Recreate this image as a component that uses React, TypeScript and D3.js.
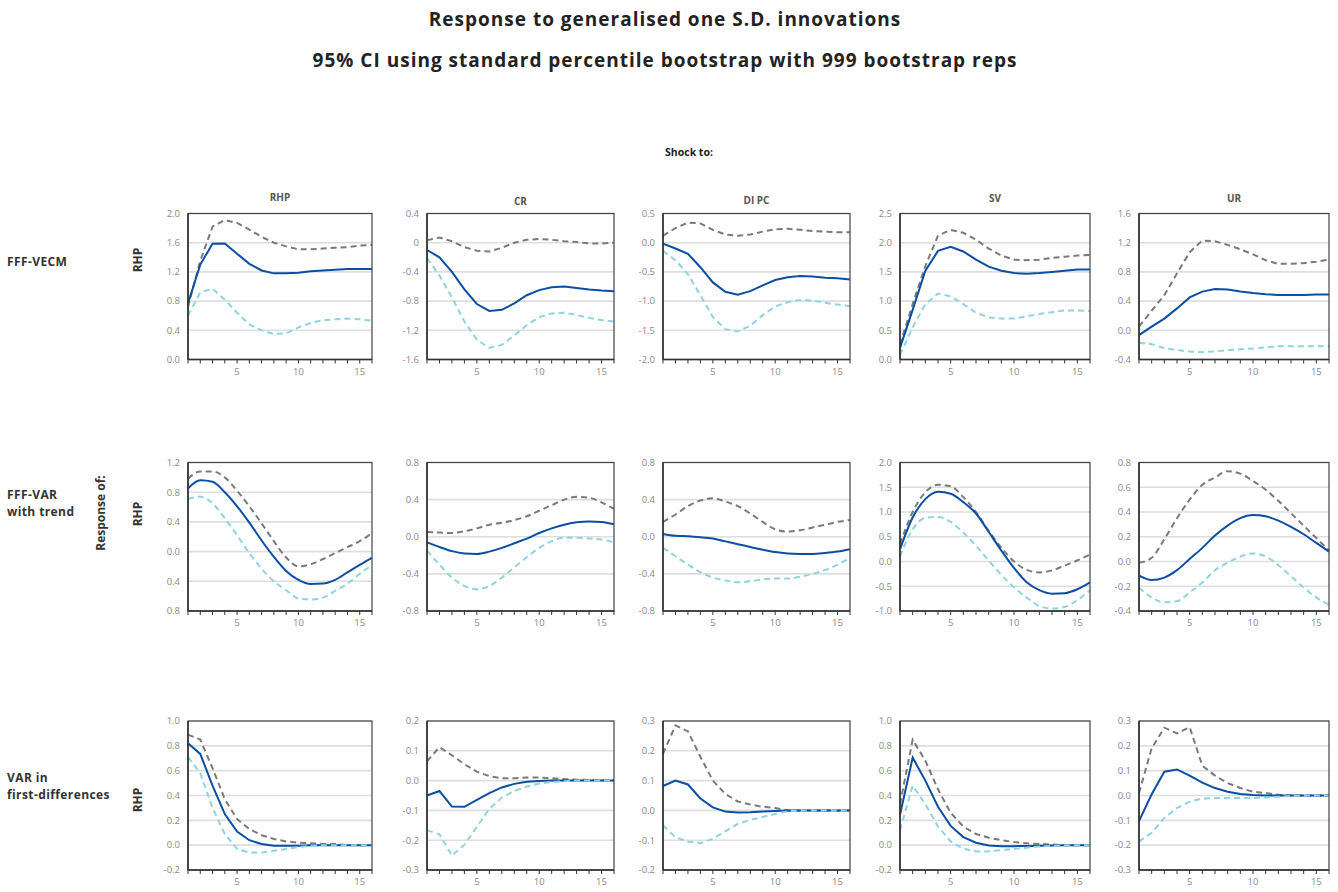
import React from "react";
import * as d3 from "d3";

// ---------- DATA ----------
const horizons = d3.range(1, 17);
const shocks = ["RHP", "CR", "DI PC", "SV", "UR"];
const models = [["FFF-VECM"], ["FFF-VAR", "with trend"], ["VAR in", "first-differences"]];

// Row 1: FFF-VECM
const vecmRhpUp = [0.72, 1.35, 1.82, 1.91, 1.87, 1.78, 1.68, 1.6, 1.55, 1.51, 1.51, 1.52, 1.53, 1.54, 1.56, 1.57];
const vecmRhpMid = [0.77, 1.3, 1.585, 1.59, 1.45, 1.31, 1.22, 1.18, 1.18, 1.19, 1.21, 1.22, 1.23, 1.24, 1.24, 1.24];
const vecmRhpLo = [0.6, 0.92, 0.97, 0.82, 0.64, 0.48, 0.4, 0.35, 0.36, 0.44, 0.5, 0.54, 0.55, 0.56, 0.55, 0.53];
const vecmCrUp = [0.035, 0.07, 0.02, -0.06, -0.11, -0.12, -0.07, 0.0, 0.04, 0.05, 0.04, 0.02, 0.01, -0.01, -0.01, 0.0];
const vecmCrMid = [-0.1, -0.2, -0.4, -0.64, -0.84, -0.935, -0.92, -0.83, -0.72, -0.65, -0.61, -0.6, -0.62, -0.64, -0.655, -0.665];
const vecmCrLo = [-0.21, -0.45, -0.75, -1.08, -1.33, -1.44, -1.4, -1.27, -1.13, -1.02, -0.97, -0.96, -0.99, -1.03, -1.06, -1.08];
const vecmDipcUp = [0.12, 0.25, 0.345, 0.33, 0.22, 0.14, 0.12, 0.14, 0.19, 0.23, 0.24, 0.22, 0.2, 0.19, 0.18, 0.18];
const vecmDipcMid = [-0.015, -0.1, -0.19, -0.42, -0.68, -0.84, -0.89, -0.83, -0.73, -0.64, -0.59, -0.57, -0.58, -0.6, -0.61, -0.63];
const vecmDipcLo = [-0.14, -0.3, -0.54, -0.9, -1.27, -1.48, -1.52, -1.42, -1.24, -1.09, -1.02, -0.98, -0.99, -1.03, -1.06, -1.09];
const vecmSvUp = [0.25, 0.95, 1.6, 2.12, 2.22, 2.17, 2.05, 1.9, 1.78, 1.71, 1.7, 1.71, 1.74, 1.76, 1.78, 1.79];
const vecmSvMid = [0.2, 0.85, 1.52, 1.86, 1.93, 1.85, 1.71, 1.59, 1.52, 1.48, 1.47, 1.48, 1.5, 1.52, 1.54, 1.54];
const vecmSvLo = [0.08, 0.55, 0.95, 1.13, 1.08, 0.95, 0.8, 0.72, 0.7, 0.7, 0.74, 0.78, 0.81, 0.84, 0.84, 0.83];
const vecmUrUp = [0.05, 0.27, 0.48, 0.78, 1.07, 1.23, 1.22, 1.17, 1.11, 1.04, 0.96, 0.91, 0.91, 0.92, 0.94, 0.97];
const vecmUrMid = [-0.065, 0.05, 0.16, 0.3, 0.45, 0.53, 0.565, 0.56, 0.53, 0.51, 0.495, 0.485, 0.485, 0.485, 0.49, 0.49];
const vecmUrLo = [-0.17, -0.19, -0.245, -0.27, -0.29, -0.3, -0.29, -0.27, -0.26, -0.25, -0.235, -0.22, -0.22, -0.22, -0.22, -0.22];

// Row 2: FFF-VAR with trend
const varRhpUp = [0.98, 1.08, 1.08, 1.0, 0.82, 0.61, 0.38, 0.14, -0.08, -0.2, -0.17, -0.1, -0.02, 0.06, 0.14, 0.25];
const varRhpMid = [0.85, 0.96, 0.94, 0.8, 0.61, 0.39, 0.15, -0.07, -0.26, -0.38, -0.435, -0.43, -0.38, -0.28, -0.18, -0.085];
const varRhpLo = [0.71, 0.74, 0.65, 0.45, 0.22, -0.02, -0.23, -0.4, -0.52, -0.63, -0.645, -0.62, -0.53, -0.43, -0.3, -0.18];
const varCrUp = [0.05, 0.045, 0.04, 0.06, 0.09, 0.13, 0.15, 0.18, 0.22, 0.28, 0.34, 0.4, 0.43, 0.42, 0.37, 0.3];
const varCrMid = [-0.06, -0.11, -0.155, -0.18, -0.185, -0.16, -0.12, -0.07, -0.02, 0.04, 0.09, 0.13, 0.155, 0.165, 0.16, 0.135];
const varCrLo = [-0.15, -0.3, -0.44, -0.53, -0.565, -0.53, -0.44, -0.33, -0.22, -0.12, -0.05, -0.01, -0.01, -0.02, -0.03, -0.06];
const varDipcUp = [0.16, 0.24, 0.33, 0.39, 0.415, 0.38, 0.33, 0.25, 0.16, 0.08, 0.055, 0.07, 0.1, 0.13, 0.16, 0.18];
const varDipcMid = [0.03, 0.01, 0.005, -0.005, -0.02, -0.05, -0.08, -0.11, -0.14, -0.165, -0.18, -0.185, -0.185, -0.175, -0.16, -0.135];
const varDipcLo = [-0.12, -0.21, -0.3, -0.38, -0.44, -0.47, -0.49, -0.48, -0.46, -0.45, -0.45, -0.43, -0.4, -0.36, -0.3, -0.23];
const varSvUp = [0.35, 1.0, 1.4, 1.55, 1.52, 1.3, 1.0, 0.62, 0.28, 0.0, -0.17, -0.22, -0.18, -0.08, 0.02, 0.14];
const varSvMid = [0.25, 0.89, 1.26, 1.41, 1.37, 1.2, 0.97, 0.6, 0.22, -0.13, -0.42, -0.58, -0.65, -0.64, -0.56, -0.42];
const varSvLo = [0.1, 0.65, 0.88, 0.9, 0.8, 0.58, 0.32, 0.02, -0.27, -0.52, -0.73, -0.9, -0.95, -0.92, -0.78, -0.58];
const varUrUp = [-0.01, 0.03, 0.18, 0.35, 0.5, 0.62, 0.68, 0.73, 0.71, 0.65, 0.58, 0.49, 0.39, 0.29, 0.19, 0.09];
const varUrMid = [-0.115, -0.15, -0.13, -0.07, 0.02, 0.11, 0.21, 0.29, 0.35, 0.375, 0.365, 0.33, 0.28, 0.22, 0.15, 0.08];
const varUrLo = [-0.21, -0.29, -0.33, -0.32, -0.25, -0.17, -0.07, -0.01, 0.04, 0.065, 0.04, -0.03, -0.12, -0.21, -0.29, -0.35];

// Row 3: VAR in first-differences
const fdRhpUp = [0.89, 0.85, 0.62, 0.37, 0.21, 0.13, 0.08, 0.05, 0.03, 0.02, 0.015, 0.01, 0.01, 0.0, 0.0, 0.0];
const fdRhpMid = [0.82, 0.735, 0.48, 0.25, 0.11, 0.04, 0.01, -0.005, -0.005, -0.005, 0.0, 0.0, 0.0, 0.0, 0.0, 0.0];
const fdRhpLo = [0.71, 0.58, 0.3, 0.09, -0.03, -0.06, -0.06, -0.045, -0.03, -0.015, -0.005, 0.0, 0.0, 0.0, 0.0, 0.0];
const fdCrUp = [0.065, 0.112, 0.085, 0.055, 0.03, 0.015, 0.008, 0.008, 0.01, 0.01, 0.008, 0.005, 0.003, 0.002, 0.001, 0.0];
const fdCrMid = [-0.05, -0.035, -0.087, -0.088, -0.065, -0.042, -0.023, -0.011, -0.004, -0.001, 0.0, 0.0, 0.0, 0.0, 0.0, 0.0];
const fdCrLo = [-0.167, -0.18, -0.252, -0.215, -0.155, -0.095, -0.057, -0.035, -0.02, -0.01, -0.005, -0.002, 0.0, 0.0, 0.0, 0.0];
const fdDipcUp = [0.19, 0.285, 0.265, 0.18, 0.1, 0.055, 0.03, 0.02, 0.012, 0.008, 0.0, 0.0, 0.0, 0.0, 0.0, 0.0];
const fdDipcMid = [0.082, 0.1, 0.087, 0.04, 0.01, -0.004, -0.007, -0.006, -0.004, -0.002, 0.0, 0.0, 0.0, 0.0, 0.0, 0.0];
const fdDipcLo = [-0.05, -0.09, -0.105, -0.11, -0.095, -0.07, -0.045, -0.032, -0.022, -0.012, -0.003, 0.0, 0.0, 0.0, 0.0, 0.0];
const fdSvUp = [0.33, 0.85, 0.68, 0.45, 0.26, 0.15, 0.09, 0.06, 0.04, 0.025, 0.015, 0.01, 0.005, 0.0, 0.0, 0.0];
const fdSvMid = [0.245, 0.705, 0.52, 0.31, 0.155, 0.065, 0.02, -0.002, -0.008, -0.008, -0.006, -0.004, -0.002, 0.0, 0.0, 0.0];
const fdSvLo = [0.12, 0.48, 0.33, 0.15, 0.03, -0.03, -0.05, -0.05, -0.04, -0.03, -0.02, -0.01, -0.005, 0.0, 0.0, 0.0];
const fdUrUp = [0.01, 0.19, 0.273, 0.25, 0.275, 0.12, 0.08, 0.05, 0.03, 0.015, 0.01, 0.003, 0.0, 0.0, 0.0, 0.0];
const fdUrMid = [-0.103, 0.005, 0.096, 0.105, 0.08, 0.052, 0.03, 0.015, 0.006, 0.002, 0.0, 0.0, 0.0, 0.0, 0.0, 0.0];
const fdUrLo = [-0.186, -0.15, -0.09, -0.05, -0.025, -0.012, -0.01, -0.01, -0.01, -0.01, -0.008, -0.005, -0.002, 0.0, 0.0, 0.0];

// y-axis ticks (top to bottom) and their labels as printed
const yTicks = [
  [[2.0, 1.6, 1.2, 0.8, 0.4, 0.0], [0.4, 0, -0.4, -0.8, -1.2, -1.6], [0.5, 0, -0.5, -1.0, -1.5, -2.0], [2.5, 2.0, 1.5, 1.0, 0.5, 0.0], [1.6, 1.2, 0.8, 0.4, 0.0, -0.4]],
  [[1.2, 0.8, 0.4, 0.0, -0.4, -0.8], [0.8, 0.4, 0.0, -0.4, -0.8], [0.8, 0.4, 0.0, -0.4, -0.8], [2.0, 1.5, 1.0, 0.5, 0.0, -0.5, -1.0], [0.8, 0.6, 0.4, 0.2, 0.0, -0.2, -0.4]],
  [[1.0, 0.8, 0.6, 0.4, 0.2, 0.0, -0.2], [0.2, 0.1, 0.0, -0.1, -0.2, -0.3], [0.3, 0.2, 0.1, 0.0, -0.1, -0.2], [1.0, 0.8, 0.6, 0.4, 0.2, 0.0, -0.2], [0.3, 0.2, 0.1, 0.0, -0.1, -0.2, -0.3]],
];
const yLabels = [
  [["2.0", "1.6", "1.2", "0.8", "0.4", "0.0"], ["0.4", "0", "-0.4", "-0.8", "-1.2", "-1.6"], ["0.5", "0.0", "-0.5", "-1.0", "-1.5", "-2.0"], ["2.5", "2.0", "1.5", "1.0", "0.5", "0.0"], ["1.6", "1.2", "0.8", "0.4", "0.0", "-0.4"]],
  [["1.2", "0.8", "0.4", "0.0", "0.4", "0.8"], ["0.8", "0.4", "0.0", "-0.4", "-0.8"], ["0.8", "0.4", "0.0", "-0.4", "-0.8"], ["2.0", "1.5", "1.0", "0.5", "0.0", "-0.5", "-1.0"], ["0.8", "0.6", "0.4", "0.2", "0.0", "-0.2", "-0.4"]],
  [["1.0", "0.8", "0.6", "0.4", "0.2", "0.0", "-0.2"], ["0.2", "0.1", "0.0", "-0.1", "-0.2", "-0.3"], ["0.3", "0.2", "0.1", "0.0", "-0.1", "-0.2"], ["1.0", "0.8", "0.6", "0.4", "0.2", "0.0", "-0.2"], ["0.3", "0.2", "0.1", "0.0", "-0.1", "-0.2", "-0.3"]],
];
const xTickLabels = [5, 10, 15];

const seriesGrid = [
  [[vecmRhpUp, vecmRhpMid, vecmRhpLo], [vecmCrUp, vecmCrMid, vecmCrLo], [vecmDipcUp, vecmDipcMid, vecmDipcLo], [vecmSvUp, vecmSvMid, vecmSvLo], [vecmUrUp, vecmUrMid, vecmUrLo]],
  [[varRhpUp, varRhpMid, varRhpLo], [varCrUp, varCrMid, varCrLo], [varDipcUp, varDipcMid, varDipcLo], [varSvUp, varSvMid, varSvLo], [varUrUp, varUrMid, varUrLo]],
  [[fdRhpUp, fdRhpMid, fdRhpLo], [fdCrUp, fdCrMid, fdCrLo], [fdDipcUp, fdDipcMid, fdDipcLo], [fdSvUp, fdSvMid, fdSvLo], [fdUrUp, fdUrMid, fdUrLo]],
];

// ---------- LAYOUT ----------
const W = 1338;
const H = 892;
const colLeft = [188, 427, 663, 900, 1139];
const colRight = [372, 614, 850, 1090, 1329];
const rowTop = [213.5, 462.5, 721];
const rowBottom = [359.5, 611, 870];
const headerY = [197, 201, 200, 198, 198];
const rhpLabelY = [260, 514, 800];
const FONT = "'Open Sans', 'DejaVu Sans', sans-serif";

const styles = [
  { stroke: "#7a7a7a", dash: "6,4", width: 2 },
  { stroke: "#0b4ea2", dash: null, width: 2 },
  { stroke: "#8fd4de", dash: "6,4", width: 2 },
];

function Panel({ r, c }: { r: number; c: number }) {
  const left = colLeft[c];
  const right = colRight[c];
  const top = rowTop[r];
  const bottom = rowBottom[r];
  const ticks = yTicks[r][c];
  const labels = yLabels[r][c];
  const x = d3.scaleLinear().domain([1, 16]).range([left, right]);
  const y = d3.scaleLinear().domain([d3.min(ticks)!, d3.max(ticks)!]).range([bottom, top]);
  const curve = r === 1 ? d3.curveMonotoneX : d3.curveLinear;
  const line = d3
    .line<number>()
    .x((_, i) => x(horizons[i]))
    .y((d) => y(d))
    .curve(curve);
  return (
    <g>
      {ticks.map((t, i) => (
        <g key={i}>
          <line x1={left} x2={right} y1={y(t)} y2={y(t)} stroke="#dedede" strokeWidth={1.6} />
          <text x={left - 8} y={y(t)} dy="0.35em" textAnchor="end" fontSize={9.5} fill="#8a8a8a" fontFamily={FONT}>
            {labels[i]}
          </text>
        </g>
      ))}
      {seriesGrid[r][c].map((s, i) => (
        <path
          key={i}
          d={line(s) || ""}
          fill="none"
          stroke={styles[i].stroke}
          strokeWidth={styles[i].width}
          strokeDasharray={styles[i].dash || undefined}
        />
      ))}
      <rect x={left} y={top} width={right - left} height={bottom - top} fill="none" stroke="#444" strokeWidth={1.2} />
      <line x1={left} x2={left} y1={top} y2={bottom} stroke="#333" strokeWidth={1.6} />
      <line x1={left} x2={right} y1={bottom} y2={bottom} stroke="#333" strokeWidth={1.6} />
      {horizons.map((h) => (
        <line key={h} x1={x(h)} x2={x(h)} y1={bottom} y2={bottom + 4} stroke="#333" strokeWidth={1} />
      ))}
      {xTickLabels.map((h) => (
        <text key={h} x={x(h)} y={bottom + 15} textAnchor="middle" fontSize={9.5} fill="#8a8a8a" fontFamily={FONT}>
          {h}
        </text>
      ))}
    </g>
  );
}

export default function App() {
  return (
    <svg width={W} height={H} style={{ position: "absolute", left: 0, top: 0, background: "#fff" }}>
      <rect width={W} height={H} fill="#fff" />
      <text x={665} y={26} textAnchor="middle" fontSize={19} letterSpacing={1} fontWeight="bold" fill="#222" fontFamily={FONT}>
        Response to generalised one S.D. innovations
      </text>
      <text x={665} y={67} textAnchor="middle" fontSize={19} letterSpacing={1} fontWeight="bold" fill="#222" fontFamily={FONT}>
        95% CI using standard percentile bootstrap with 999 bootstrap reps
      </text>
      <text x={689} y={156} textAnchor="middle" fontSize={10.5} fontWeight="bold" fill="#222" fontFamily={FONT}>
        Shock to:
      </text>
      {shocks.map((s, c) => (
        <text key={s} x={(colLeft[c] + colRight[c]) / 2} y={headerY[c] + 4} textAnchor="middle" fontSize={10} fontWeight="bold" fill="#555" fontFamily={FONT}>
          {s}
        </text>
      ))}
      {models.map((lines, r) => {
        const y0 = r === 0 ? 266 : r === 1 ? 499 : 782;
        return (
          <text key={r} x={7} y={y0} fontSize={12} letterSpacing={0.4} fontWeight="bold" fill="#333" fontFamily={FONT}>
            {lines.map((l, i) => (
              <tspan key={i} x={7} dy={i === 0 ? 0 : 17}>
                {l}
              </tspan>
            ))}
          </text>
        );
      })}
      <text transform="translate(105,513) rotate(-90)" textAnchor="middle" fontSize={12} fontWeight="bold" fill="#333" fontFamily={FONT}>
        Response of:
      </text>
      {rhpLabelY.map((yy, r) => (
        <text key={r} transform={`translate(142,${yy}) rotate(-90)`} textAnchor="middle" fontSize={12} fontWeight="bold" fill="#333" fontFamily={FONT}>
          RHP
        </text>
      ))}
      {seriesGrid.map((row, r) => row.map((_, c) => <Panel key={`${r}-${c}`} r={r} c={c} />))}
    </svg>
  );
}
